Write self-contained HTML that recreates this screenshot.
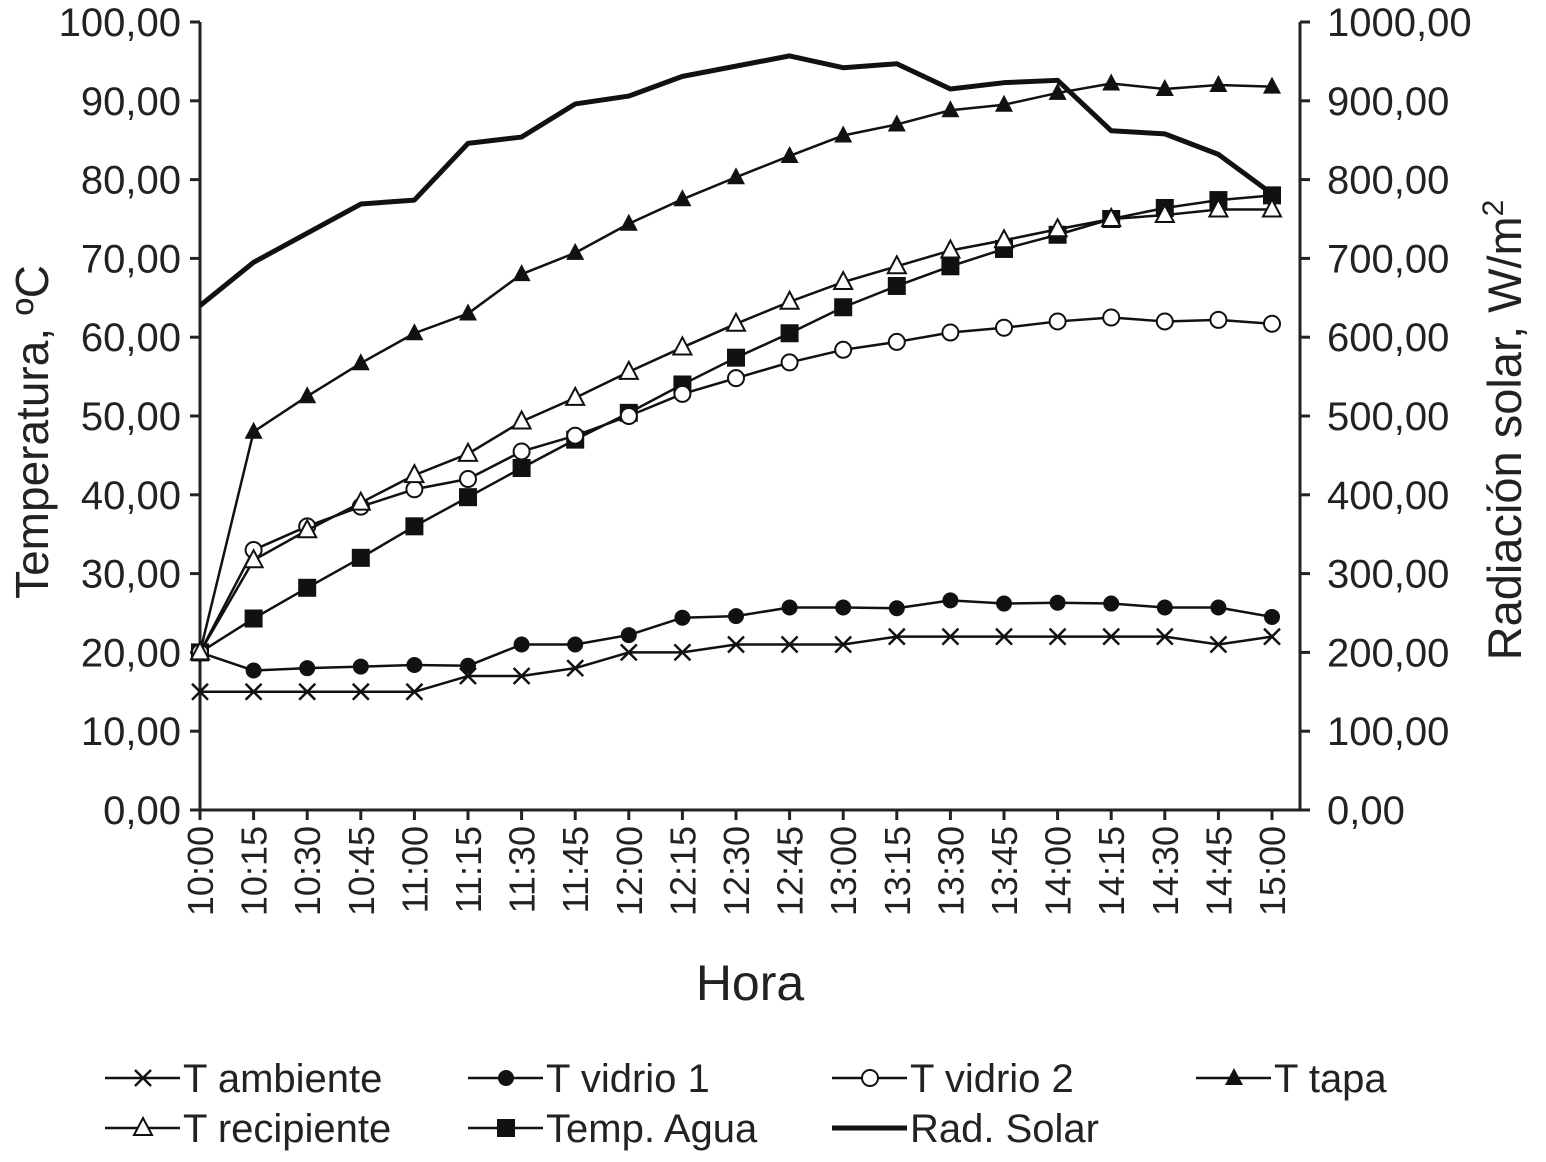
<!DOCTYPE html>
<html><head><meta charset="utf-8">
<style>
html,body{margin:0;padding:0;background:#fff;}
svg{display:block;font-family:"Liberation Sans",Arial,sans-serif;}
</style></head>
<body>
<svg id="chart" width="1546" height="1162" viewBox="0 0 1546 1162" xmlns="http://www.w3.org/2000/svg"></svg>
<script>
const categories=["10:00","10:15","10:30","10:45","11:00","11:15","11:30","11:45","12:00","12:15","12:30","12:45","13:00","13:15","13:30","13:45","14:00","14:15","14:30","14:45","15:00"];
const tAmbiente=[15,15,15,15,15,17,17,18,20,20,21,21,21,22,22,22,22,22,22,21,22];
const tVidrio1=[20,17.7,18,18.2,18.4,18.3,21,21,22.2,24.4,24.6,25.7,25.7,25.6,26.6,26.2,26.3,26.2,25.7,25.7,24.5];
const tVidrio2=[20,33,36,38.5,40.7,42,45.5,47.5,50,52.8,54.8,56.8,58.4,59.4,60.6,61.2,62,62.5,62,62.2,61.7];
const tTapa=[20,48,52.5,56.7,60.5,63,68,70.7,74.4,77.5,80.3,83,85.6,87,88.8,89.5,91,92.2,91.5,92,91.8];
const tRecipiente=[20,31.7,35.5,39,42.5,45.2,49.3,52.3,55.6,58.7,61.7,64.5,67,69,71,72.3,73.7,75,75.5,76.2,76.2];
const tAgua=[20,24.3,28.2,32,36,39.7,43.4,47,50.4,54,57.4,60.5,63.8,66.5,69,71.2,73,75,76.4,77.4,78];
const radSolar=[640,695,732,769,774,846,854,896,906,931,944,957,942,947,915,923,926,862,858,832,782];
const leftTicks=["0,00","10,00","20,00","30,00","40,00","50,00","60,00","70,00","80,00","90,00","100,00"];
const rightTicks=["0,00","100,00","200,00","300,00","400,00","500,00","600,00","700,00","800,00","900,00","1000,00"];

const NS="http://www.w3.org/2000/svg";
const svg=document.getElementById('chart');
const X0=200,X1=1272,Y0=810,Y1=22,AXR=1300;
const xs=i=>X0+i*(X1-X0)/(categories.length-1);
const yL=v=>Y0-(v/100)*(Y0-Y1);
const yR=v=>Y0-(v/1000)*(Y0-Y1);
function mk(tag,attrs,parent){const e=document.createElementNS(NS,tag);for(const k in attrs)e.setAttribute(k,attrs[k]);(parent||svg).appendChild(e);return e;}

let a=mk('line',{x1:X0,y1:Y1,x2:X0,y2:Y0,stroke:'#222','stroke-width':3});


a=mk('line',{x1:AXR,y1:Y1,x2:AXR,y2:Y0,stroke:'#222','stroke-width':3});


a=mk('line',{x1:X0,y1:Y0,x2:AXR,y2:Y0,stroke:'#222','stroke-width':3});



leftTicks.forEach((t,i)=>{
  const y=yL(i*10);
  mk('line',{x1:X0-10,y1:y,x2:X0,y2:y,stroke:'#222','stroke-width':3});
  const tx=mk('text',{x:181,y:y+14,'font-size':40,'text-anchor':'end',fill:'#222'});
  tx.textContent=t;
  
  
});
rightTicks.forEach((t,i)=>{
  const y=yR(i*100);
  mk('line',{x1:AXR,y1:y,x2:AXR+10,y2:y,stroke:'#222','stroke-width':3});
  const tx=mk('text',{x:1327,y:y+14,'font-size':40,'text-anchor':'start',fill:'#222'});
  tx.textContent=t;
  
  
});
categories.forEach((c,i)=>{
  const x=xs(i);
  mk('line',{x1:x,y1:Y0,x2:x,y2:Y0+10,stroke:'#222','stroke-width':3});
  const tx=mk('text',{x:0,y:0,'font-size':36,'text-anchor':'end',fill:'#222',transform:`translate(${x+13},826) rotate(-90)`});
  tx.textContent=c;
  
  
});
let t=mk('text',{x:750,y:1000,'font-size':50,'text-anchor':'middle',fill:'#222'});t.textContent='Hora';


t=mk('text',{x:0,y:0,'font-size':46,'text-anchor':'middle',fill:'#222',transform:'translate(48,432) rotate(-90)'});t.textContent='Temperatura, ºC';


t=mk('text',{x:0,y:0,'font-size':47,'text-anchor':'middle',fill:'#222',transform:'translate(1521,430) rotate(-90)'});
t.innerHTML='Radiación solar, W/m<tspan font-size="30" dy="-18">2</tspan>';



function marker(g,type,x,y){
  const s='#111';
  if(type==='x'){mk('path',{d:`M${x-8} ${y-8}L${x+8} ${y+8}M${x-8} ${y+8}L${x+8} ${y-8}`,stroke:s,'stroke-width':2.5,fill:'none'},g);}
  else if(type==='dot'){mk('circle',{cx:x,cy:y,r:8,fill:s},g);}
  else if(type==='circle'){mk('circle',{cx:x,cy:y,r:8,fill:'#fff',stroke:s,'stroke-width':2},g);}
  else if(type==='tri'){mk('path',{d:`M${x} ${y-10}L${x+9} ${y+7}L${x-9} ${y+7}Z`,fill:s},g);}
  else if(type==='otri'){mk('path',{d:`M${x} ${y-10}L${x+9} ${y+7}L${x-9} ${y+7}Z`,fill:'#fff',stroke:s,'stroke-width':2},g);}
  else if(type==='sq'){mk('rect',{x:x-9,y:y-9,width:18,height:18,fill:s},g);}
}
function series(name,data,yf,type,w){
  const g=mk('g',{});
  
  
  mk('polyline',{points:data.map((v,i)=>xs(i)+','+yf(v)).join(' '),fill:'none',stroke:'#111','stroke-width':w,'stroke-linejoin':'round'},g);
  if(type) data.forEach((v,i)=>marker(g,type,xs(i),yf(v)));
}
series('rad-solar-line',radSolar,yR,null,5);
series('t-ambiente-line',tAmbiente,yL,'x',2.5);
series('t-vidrio1-line',tVidrio1,yL,'dot',2.5);
series('t-tapa-line',tTapa,yL,'tri',2.5);
series('t-agua-line',tAgua,yL,'sq',2.5);
series('t-vidrio2-line',tVidrio2,yL,'circle',2.5);
series('t-recipiente-line',tRecipiente,yL,'otri',2.5);

const legend=[["T ambiente","x",105,1078],["T vidrio 1","dot",468,1078],["T vidrio 2","circle",832,1078],["T tapa","tri",1196,1078],
["T recipiente","otri",105,1128],["Temp. Agua","sq",468,1128],["Rad. Solar",null,832,1128]];
legend.forEach(([lab,type,x,y])=>{
  const g=mk('g',{});
  
  
  mk('line',{x1:x,y1:y,x2:x+75,y2:y,stroke:'#111','stroke-width':type?2.5:5},g);
  if(type)marker(g,type,x+38,y);
  const tx=mk('text',{x:x+78,y:y+14,'font-size':40,fill:'#222'},g);tx.textContent=lab;
});
</script>
</body></html>
